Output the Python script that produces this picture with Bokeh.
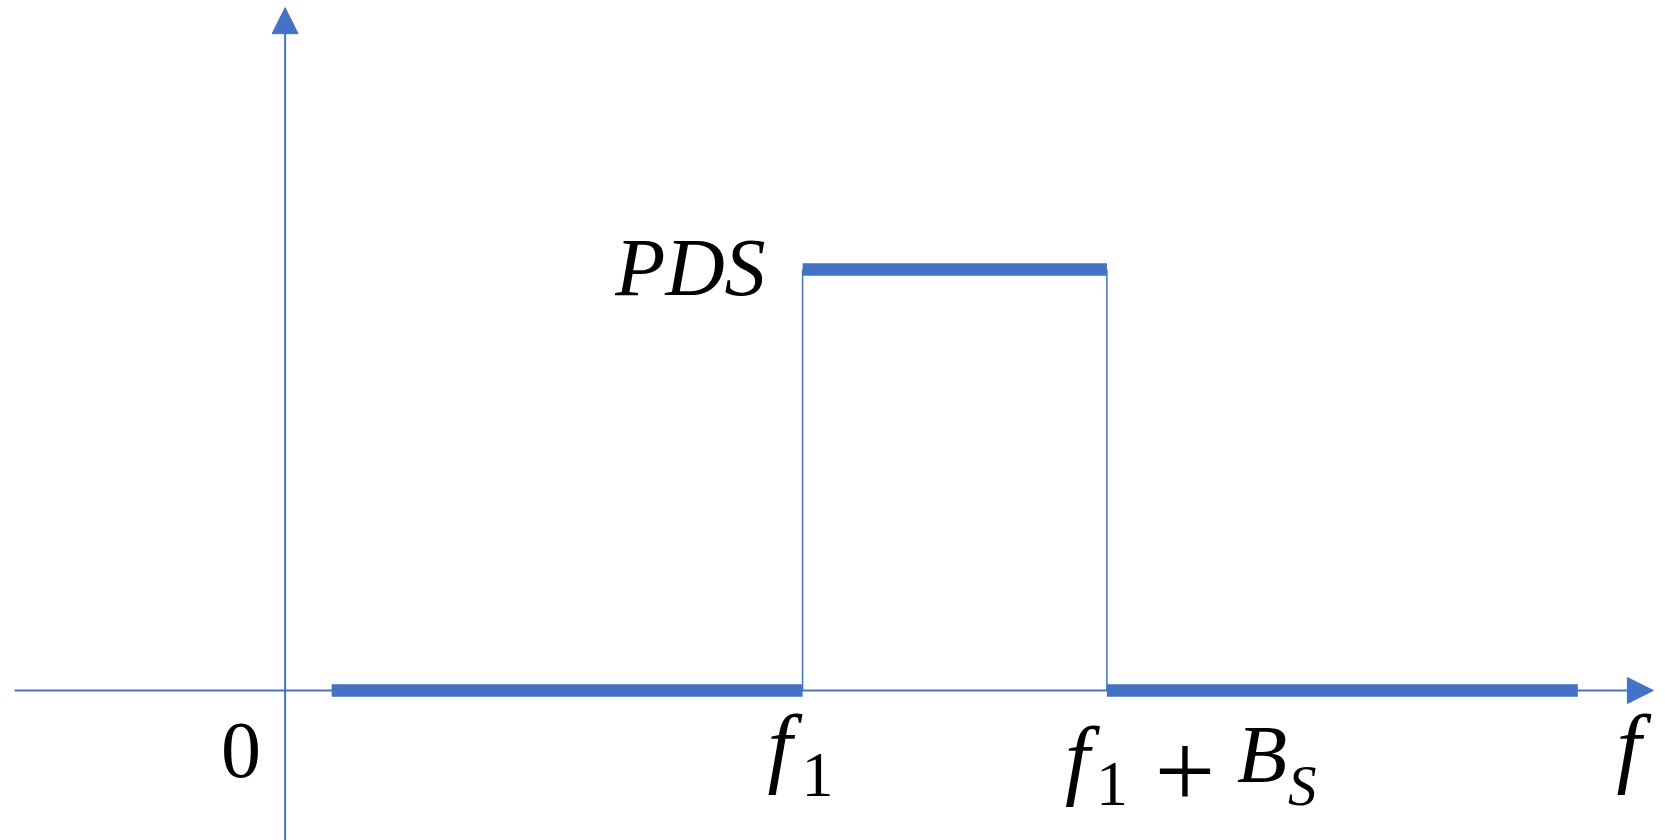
from bokeh.plotting import figure
from bokeh.models import Range1d, Arrow, NormalHead
from bokeh.core.properties import value
from bokeh.embed import file_html
from bokeh.resources import INLINE

# ---- data ----
f1 = 5.0          # start of band
Bs = 2.94         # bandwidth
pds = 1.0         # power spectral density level
low_start = 0.45  # thick zero-level line starts here
low_end = 12.49   # thick zero-level line ends here
axis_x = [-2.614, 13.22]   # horizontal axis extent (tail, arrow tip)
axis_y = [-0.40, 1.622]    # vertical axis extent (tail, arrow tip)

BLUE = "#4472C4"
FONT = value("Liberation Serif")

p = figure(width=1665, height=840, output_backend="svg", toolbar_location=None,
           x_range=Range1d(-2.7498, 13.337), y_range=Range1d(-0.3563, 1.639),
           min_border=0, outline_line_color=None, background_fill_color="white")
p.axis.visible = False
p.grid.visible = False

# axes with arrow heads
p.add_layout(Arrow(end=NormalHead(size=26, fill_color=BLUE, line_color=BLUE, line_width=1),
                   x_start=axis_x[0], y_start=0, x_end=axis_x[1], y_end=0,
                   line_color=BLUE, line_width=2))
p.add_layout(Arrow(end=NormalHead(size=26, fill_color=BLUE, line_color=BLUE, line_width=1),
                   x_start=0, y_start=axis_y[0], x_end=0, y_end=axis_y[1],
                   line_color=BLUE, line_width=2))

# thin band edges
p.segment(x0=[f1, f1 + Bs], y0=[0, 0], x1=[f1, f1 + Bs], y1=[pds, pds],
          line_color=BLUE, line_width=1.5)

# thick spectrum segments
p.segment(x0=[low_start, f1, f1 + Bs], y0=[0, pds, 0],
          x1=[f1, f1 + Bs, low_end], y1=[0, pds, 0],
          line_color=BLUE, line_width=12.5, line_cap="butt")

def txt(x, y, s, size, italic, dx, dy, align="left"):
    p.text(x=[x], y=[y], text=[s], text_font=FONT, text_font_size=f"{size}px",
           text_font_style="italic" if italic else "normal", text_color="black",
           text_align=align, text_baseline="alphabetic", x_offset=dx, y_offset=dy)

# PDS label
txt(f1, pds, "PDS", 82, True, -37, -2.5, "right")
# 0 label
txt(0, 0, "0", 80, False, -44, 60, "center")
# f1 label
txt(f1, 0, "f", 89, True, -35, 55.6)
txt(f1, 0, "1", 64, False, -1, 84.4)
# f1 + Bs label
txt(f1 + Bs, 0, "f", 89, True, -42, 67.6)
txt(f1 + Bs, 0, "1", 64, False, -11, 93)
txt(f1 + Bs, 0, "+", 108, False, 78, 81, "center")
txt(f1 + Bs, 0, "B", 82, True, 130, 64)
txt(f1 + Bs, 0, "S", 57, True, 181, 94.5)
# axis label f
txt(axis_x[1], 0, "f", 89, True, -37, 55.6)

open("out.html", "w").write(file_html(p, INLINE))
